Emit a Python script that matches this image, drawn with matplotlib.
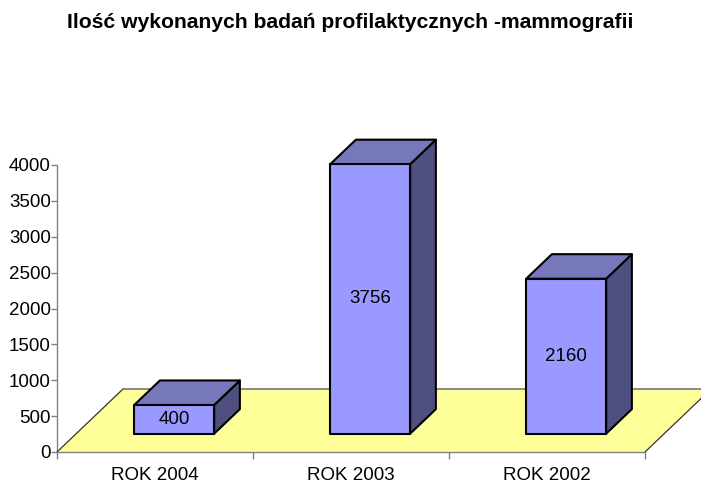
import matplotlib
matplotlib.use("Agg")
import matplotlib.pyplot as plt
from matplotlib.patches import Polygon

title = "Ilość wykonanych badań profilaktycznych -mammografii"
categories = ["ROK 2004", "ROK 2003", "ROK 2002"]
values = [400, 3756, 2160]
y_ticks = [0, 500, 1000, 1500, 2000, 2500, 3000, 3500, 4000]

FONT = ["Liberation Sans", "DejaVu Sans"]
plt.rcParams["font.family"] = FONT

fig = plt.figure(figsize=(7.01, 4.87), dpi=100)
ax = fig.add_axes([57 / 701, 35 / 487, 588 / 701, 287 / 487])
ax.set_xlim(-0.5, len(categories) - 0.5)
ax.set_ylim(0, 4000)

# oblique depth projection (in data units)
DX = 66 / 196.0          # categories per full depth
DY = 63 / (287 / 4000)   # value units per full depth
d0, d1 = 0.29, 0.68      # bar front / back depth fraction
hw = 0.204               # bar half width

def P(x, v, d):
    return (x + d * DX, v + d * DY)

# floor
x0, x1 = -0.5, len(categories) - 0.5
floor = Polygon([P(x0, 0, 0), P(x1, 0, 0), P(x1, 0, 1), P(x0, 0, 1)],
                closed=True, facecolor="#FFFF99", edgecolor="none", clip_on=False, zorder=1)
ax.add_patch(floor)
ax.plot([P(x0, 0, 0)[0], P(x0, 0, 1)[0]], [0, P(x0, 0, 1)[1]], color="#333333", lw=0.9, clip_on=False, zorder=1.5)
ax.plot([P(x0, 0, 1)[0], P(x1, 0, 1)[0]], [P(x0, 0, 1)[1]] * 2, color="#777777", lw=1.2, clip_on=False, zorder=1.5)
ax.plot([P(x1, 0, 0)[0], P(x1, 0, 1)[0]], [0, P(x1, 0, 1)[1]], color="#333333", lw=0.9, clip_on=False, zorder=1.5)

front_c, top_c, side_c = "#9999FF", "#7777BB", "#4F4F80"
for i, v in enumerate(values):
    xl, xr = i - hw, i + hw
    front = [P(xl, 0, d0), P(xr, 0, d0), P(xr, v, d0), P(xl, v, d0)]
    side = [P(xr, 0, d0), P(xr, 0, d1), P(xr, v, d1), P(xr, v, d0)]
    top = [P(xl, v, d0), P(xr, v, d0), P(xr, v, d1), P(xl, v, d1)]
    for pts, c in ((side, side_c), (top, top_c), (front, front_c)):
        ax.add_patch(Polygon(pts, closed=True, facecolor=c, edgecolor="black",
                             lw=1.5, joinstyle="round", clip_on=False, zorder=3))
    cx, cy = P(i, v / 2, d0)
    ax.text(cx, cy, str(v), ha="center", va="center", fontsize=13.5, zorder=4)

for s in ("top", "right"):
    ax.spines[s].set_visible(False)
for s in ("left", "bottom"):
    ax.spines[s].set_color("#808080")
    ax.spines[s].set_linewidth(1.0)
ax.spines["left"].set_zorder(0.5)

ax.set_yticks(y_ticks)
ax.set_yticklabels([str(t) for t in y_ticks], fontsize=13.5)
ax.tick_params(axis="y", length=4, width=1, color="#808080", pad=0.5)

ax.set_xticks(range(len(categories)))
ax.set_xticklabels(categories, fontsize=13.5)
ax.set_xticks([k - 0.5 for k in range(len(categories) + 1)], minor=True)
ax.tick_params(axis="x", which="major", length=0, pad=11)
ax.tick_params(axis="x", which="minor", length=5, width=1, color="#808080")

fig.text(0.5, 1 - 23 / 487, title, ha="center", va="center", fontsize=15.2, fontweight="bold")

fig.savefig("out.png", dpi=100)
